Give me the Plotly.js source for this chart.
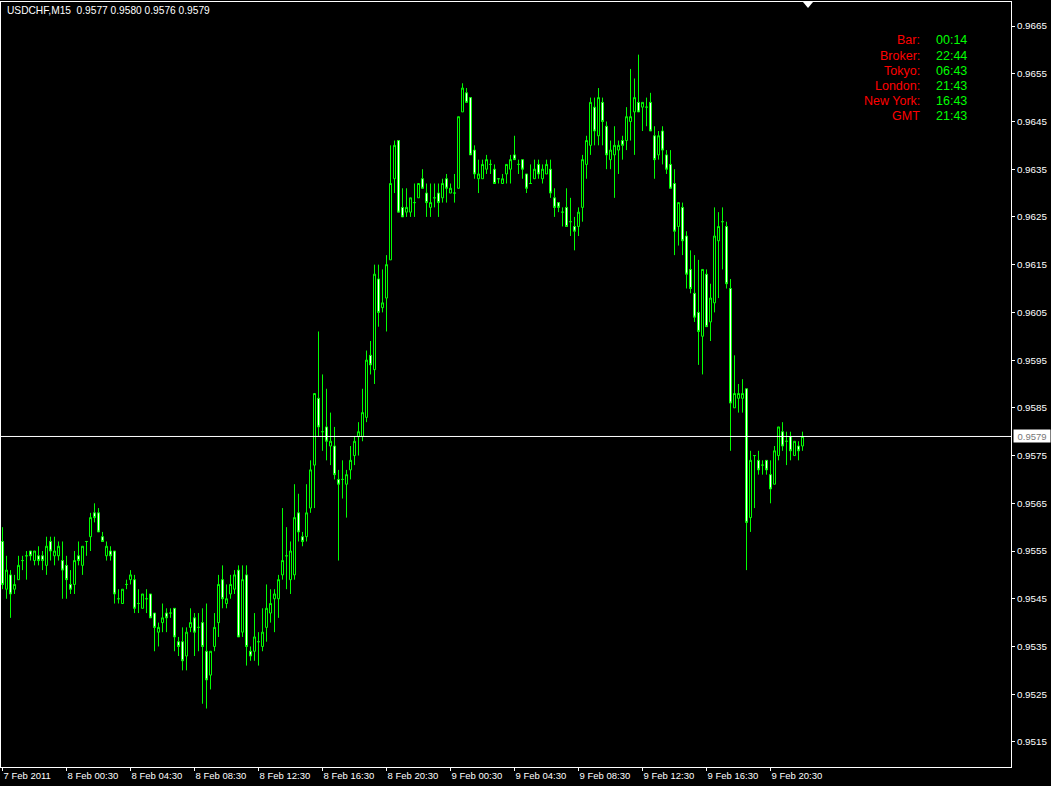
<!DOCTYPE html>
<html>
<head>
<meta charset="utf-8">
<script src="https://cdn.plot.ly/plotly-3.0.1.min.js"></script>
<style>
html,body{margin:0;padding:0;background:#000;}
#chart{width:1051px;height:786px;}
</style>
</head>
<body>
<div id="chart"></div>
<script>
// ---- Data (USDCHF, M15) ----
const symbolTitle = "USDCHF,M15";
const firstBarTime = "2011-02-07 20:30";
const barMinutes = 15;

const open = [
0.9557,0.9547,0.9550,0.9547,0.9549,0.9553,0.9554,0.9555,0.9553,0.9554,
0.9554,0.9552,0.9557,0.9554,0.9554,0.9553,0.9552,0.9548,0.9548,0.9554,
0.9552,0.9557,0.9558,0.9563,0.9563,0.9558,0.9554,0.9555,0.9555,0.9545,
0.9544,0.9548,0.9549,0.9549,0.9544,0.9543,0.9545,0.9546,0.9542,0.9538,
0.9540,0.9542,0.9542,0.9543,0.9536,0.9536,0.9533,0.9539,0.9541,0.9539,
0.9540,0.9534,0.9529,0.9535,0.9540,0.9549,0.9544,0.9546,0.9547,0.9551,
0.9538,0.9550,0.9534,0.9534,0.9536,0.9535,0.9539,0.9542,0.9545,0.9545,
0.9550,0.9554,0.9549,0.9550,0.9563,0.9558,0.9558,0.9564,0.9573,0.9587,
0.9580,0.9581,0.9577,0.9577,0.9570,0.9570,0.9569,0.9572,0.9575,0.9579,
0.9579,0.9583,0.9596,0.9593,0.9612,0.9606,0.9608,0.9616,0.9633,0.9641,
0.9627,0.9626,0.9626,0.9628,0.9629,0.9633,0.9630,0.9627,0.9629,0.9630,
0.9629,0.9633,0.9630,0.9630,0.9631,0.9647,0.9651,0.9650,0.9639,0.9633,
0.9633,0.9635,0.9636,0.9635,0.9633,0.9632,0.9634,0.9635,0.9638,0.9636,
0.9637,0.9634,0.9632,0.9633,0.9636,0.9633,0.9634,0.9635,0.9629,0.9628,
0.9626,0.9627,0.9624,0.9623,0.9623,0.9627,0.9636,0.9640,0.9648,0.9642,
0.9649,0.9644,0.9637,0.9638,0.9639,0.9641,0.9641,0.9645,0.9647,0.9649,
0.9648,0.9648,0.9649,0.9642,0.9638,0.9643,0.9638,0.9636,0.9632,0.9623,
0.9627,0.9621,0.9614,0.9609,0.9605,0.9600,0.9613,0.9603,0.9607,0.9620,
0.9624,0.9623,0.9610,0.9585,0.9587,0.9587,0.9589,0.9562,0.9575,0.9574,
0.9573,0.9574,0.9571,0.9569,0.9575,0.9580,0.9578,0.9579,0.9575,0.9577,
0.9577];

const high = [
0.9560,0.9554,0.9551,0.9550,0.9554,0.9554,0.9555,0.9555,0.9555,0.9556,
0.9555,0.9558,0.9558,0.9558,0.9557,0.9557,0.9554,0.9551,0.9555,0.9557,
0.9556,0.9557,0.9563,0.9565,0.9564,0.9559,0.9557,0.9556,0.9555,0.9547,
0.9547,0.9549,0.9551,0.9550,0.9547,0.9546,0.9547,0.9546,0.9542,0.9540,
0.9544,0.9543,0.9543,0.9543,0.9537,0.9539,0.9539,0.9543,0.9542,0.9542,
0.9543,0.9544,0.9534,0.9542,0.9550,0.9552,0.9548,0.9550,0.9551,0.9552,
0.9552,0.9552,0.9535,0.9542,0.9538,0.9543,0.9548,0.9547,0.9547,0.9550,
0.9564,0.9560,0.9557,0.9569,0.9567,0.9559,0.9569,0.9574,0.9588,0.9601,
0.9592,0.9589,0.9584,0.9581,0.9572,0.9574,0.9572,0.9577,0.9579,0.9582,
0.9589,0.9597,0.9599,0.9615,0.9615,0.9614,0.9617,0.9640,0.9641,0.9641,
0.9631,0.9631,0.9629,0.9632,0.9632,0.9635,0.9632,0.9632,0.9632,0.9632,
0.9633,0.9634,0.9632,0.9634,0.9646,0.9653,0.9652,0.9650,0.9640,0.9637,
0.9637,0.9638,0.9637,0.9636,0.9633,0.9634,0.9636,0.9638,0.9642,0.9637,
0.9637,0.9634,0.9636,0.9637,0.9637,0.9636,0.9637,0.9637,0.9631,0.9628,
0.9627,0.9631,0.9629,0.9625,0.9627,0.9638,0.9642,0.9650,0.9650,0.9652,
0.9650,0.9645,0.9641,0.9644,0.9641,0.9642,0.9648,0.9656,0.9654,0.9659,
0.9649,0.9650,0.9651,0.9644,0.9643,0.9644,0.9639,0.9639,0.9635,0.9628,
0.9628,0.9622,0.9618,0.9617,0.9616,0.9614,0.9614,0.9611,0.9627,0.9626,
0.9627,0.9624,0.9612,0.9596,0.9590,0.9591,0.9589,0.9576,0.9575,0.9576,
0.9574,0.9574,0.9574,0.9577,0.9581,0.9582,0.9580,0.9580,0.9578,0.9578,
0.9580];

const low = [
0.9547,0.9545,0.9541,0.9546,0.9549,0.9551,0.9549,0.9553,0.9552,0.9552,
0.9551,0.9550,0.9553,0.9552,0.9553,0.9545,0.9545,0.9546,0.9546,0.9552,
0.9550,0.9554,0.9555,0.9561,0.9559,0.9557,0.9553,0.9553,0.9544,0.9544,
0.9544,0.9547,0.9548,0.9542,0.9542,0.9543,0.9542,0.9541,0.9534,0.9535,
0.9538,0.9538,0.9541,0.9534,0.9533,0.9530,0.9530,0.9538,0.9533,0.9534,
0.9523,0.9522,0.9526,0.9534,0.9537,0.9543,0.9543,0.9545,0.9546,0.9537,
0.9537,0.9531,0.9532,0.9532,0.9531,0.9534,0.9536,0.9540,0.9538,0.9541,
0.9549,0.9547,0.9546,0.9549,0.9557,0.9556,0.9557,0.9563,0.9564,0.9579,
0.9576,0.9574,0.9573,0.9570,0.9553,0.9566,0.9562,0.9570,0.9573,0.9575,
0.9578,0.9582,0.9592,0.9590,0.9602,0.9605,0.9601,0.9616,0.9630,0.9626,
0.9625,0.9625,0.9625,0.9625,0.9629,0.9631,0.9625,0.9625,0.9627,0.9625,
0.9628,0.9628,0.9630,0.9628,0.9631,0.9647,0.9649,0.9638,0.9633,0.9630,
0.9633,0.9634,0.9634,0.9632,0.9632,0.9632,0.9632,0.9632,0.9637,0.9634,
0.9633,0.9630,0.9632,0.9633,0.9633,0.9632,0.9634,0.9629,0.9625,0.9626,
0.9623,0.9623,0.9621,0.9618,0.9621,0.9624,0.9633,0.9638,0.9640,0.9640,
0.9640,0.9635,0.9635,0.9629,0.9634,0.9637,0.9639,0.9641,0.9638,0.9647,
0.9643,0.9644,0.9643,0.9633,0.9637,0.9636,0.9634,0.9631,0.9617,0.9619,
0.9617,0.9610,0.9609,0.9603,0.9594,0.9592,0.9602,0.9599,0.9605,0.9608,
0.9614,0.9610,0.9576,0.9585,0.9584,0.9584,0.9551,0.9559,0.9564,0.9571,
0.9571,0.9571,0.9565,0.9569,0.9574,0.9576,0.9573,0.9574,0.9575,0.9574,
0.9576];

const close = [
0.9548,0.9551,0.9546,0.9548,0.9552,0.9553,0.9554,0.9554,0.9555,0.9553,
0.9553,0.9556,0.9555,0.9555,0.9556,0.9551,0.9549,0.9547,0.9553,0.9553,
0.9556,0.9557,0.9562,0.9562,0.9559,0.9557,0.9556,0.9554,0.9546,0.9545,
0.9547,0.9548,0.9550,0.9543,0.9544,0.9546,0.9545,0.9541,0.9539,0.9539,
0.9541,0.9541,0.9542,0.9537,0.9535,0.9532,0.9538,0.9540,0.9538,0.9539,
0.9535,0.9528,0.9534,0.9539,0.9548,0.9545,0.9545,0.9548,0.9550,0.9537,
0.9549,0.9535,0.9533,0.9537,0.9536,0.9538,0.9543,0.9544,0.9546,0.9549,
0.9553,0.9554,0.9555,0.9562,0.9559,0.9557,0.9563,0.9572,0.9588,0.9581,
0.9580,0.9578,0.9578,0.9571,0.9569,0.9570,0.9571,0.9574,0.9578,0.9580,
0.9584,0.9595,0.9594,0.9613,0.9605,0.9607,0.9615,0.9632,0.9640,0.9626,
0.9625,0.9627,0.9629,0.9628,0.9632,0.9631,0.9628,0.9628,0.9629,0.9628,
0.9632,0.9631,0.9631,0.9630,0.9646,0.9652,0.9649,0.9638,0.9634,0.9634,
0.9636,0.9637,0.9636,0.9632,0.9633,0.9633,0.9636,0.9637,0.9637,0.9636,
0.9635,0.9631,0.9632,0.9635,0.9634,0.9635,0.9636,0.9630,0.9627,0.9627,
0.9626,0.9623,0.9624,0.9622,0.9626,0.9637,0.9641,0.9649,0.9643,0.9650,
0.9645,0.9638,0.9639,0.9640,0.9640,0.9640,0.9646,0.9646,0.9650,0.9647,
0.9649,0.9648,0.9643,0.9637,0.9642,0.9639,0.9635,0.9631,0.9622,0.9628,
0.9620,0.9613,0.9610,0.9604,0.9601,0.9614,0.9602,0.9608,0.9621,0.9623,
0.9624,0.9611,0.9586,0.9588,0.9588,0.9588,0.9561,0.9574,0.9575,0.9572,
0.9573,0.9572,0.9568,0.9576,0.9581,0.9577,0.9578,0.9576,0.9578,0.9576,
0.9579];

const xTickVals = ["2011-02-07 20:30","2011-02-08 00:30","2011-02-08 04:30","2011-02-08 08:30",
  "2011-02-08 12:30","2011-02-08 16:30","2011-02-08 20:30","2011-02-09 00:30","2011-02-09 04:30",
  "2011-02-09 08:30","2011-02-09 12:30","2011-02-09 16:30","2011-02-09 20:30"];
const xTickText = ["7 Feb 2011","8 Feb 00:30","8 Feb 04:30","8 Feb 08:30","8 Feb 12:30","8 Feb 16:30",
  "8 Feb 20:30","9 Feb 00:30","9 Feb 04:30","9 Feb 08:30","9 Feb 12:30","9 Feb 16:30","9 Feb 20:30"];

const clockLabels = ["Bar:","Broker:","Tokyo:","London:","New York:","GMT"];
const clockValues = ["00:14","22:44","06:43","21:43","16:43","21:43"];

// ---- bar times (15-minute steps) ----
function pad(n){return (n<10?"0":"")+n;}
function fmt(d){return d.getUTCFullYear()+"-"+pad(d.getUTCMonth()+1)+"-"+pad(d.getUTCDate())+" "+pad(d.getUTCHours())+":"+pad(d.getUTCMinutes())+":"+pad(d.getUTCSeconds())+"."+String(d.getUTCMilliseconds()).padStart(3,"0");}
const t0 = Date.UTC(2011,1,7,20,30);
const barMs = barMinutes*60000;
const times = close.map((_,i)=>fmt(new Date(t0 + i*barMs)));

const W=1051, H=786, ML=1, MR=40, MT=2, MB=19;
const PW = W-ML-MR, PH = H-MT-MB;
const pxPerBar = 4;
// first bar centred on pixel column 2 (centre at 2.5 px)
const leftBars = (2.5-ML)/pxPerBar;
const xStart = fmt(new Date(t0 - leftBars*barMs));
const xEnd = fmt(new Date(t0 + (PW/pxPerBar - leftBars)*barMs));
function px(x){return (x-ML)/PW;}
function py(y){return 1-(y-MT)/PH;}

const last = close.length-1;
const fontFam = "Liberation Sans, Arial, sans-serif";

const trace = {
  type:"candlestick",
  x: times, open: open, high: high, low: low, close: close,
  increasing:{line:{color:"#00ff00",width:1},fillcolor:"#000000"},
  decreasing:{line:{color:"#00ff00",width:1},fillcolor:"#ffffff"},
  whiskerwidth:0,
  hoverinfo:"skip",
  showlegend:false
};

const annotations = [];
annotations.push({
  xref:"paper", yref:"paper", x:px(5), y:py(11), xanchor:"left", yanchor:"middle",
  text: symbolTitle+"  "+open[last].toFixed(4)+" "+high[last].toFixed(4)+" "+low[last].toFixed(4)+" "+close[last].toFixed(4),
  showarrow:false, font:{family:fontFam,size:10.2,color:"#ffffff"}
});
const rowY=[40,56,71,86,101,116];
clockLabels.forEach((l,i)=>{
  annotations.push({xref:"paper",yref:"paper",x:px(922),y:py(rowY[i]),xanchor:"right",yanchor:"middle",
    text:l,showarrow:false,font:{family:fontFam,size:12.5,color:"#ff0000"}});
  annotations.push({xref:"paper",yref:"paper",x:px(934),y:py(rowY[i]),xanchor:"left",yanchor:"middle",
    text:clockValues[i],showarrow:false,font:{family:fontFam,size:12.5,color:"#00ff00"}});
});
annotations.push({
  xref:"paper", yref:"y", x:1, y:close[last], xanchor:"left", yanchor:"middle", xshift:2,
  text: close[last].toFixed(4), showarrow:false, bgcolor:"#ffffff", borderpad:1, width:34, height:10,
  font:{family:fontFam,size:9.5,color:"#777777"}
});

const layout = {
  width:W, height:H,
  margin:{l:ML,r:MR,t:MT,b:MB,pad:0},
  paper_bgcolor:"#000000", plot_bgcolor:"#000000",
  showlegend:false,
  boxmode:"overlay", boxgap:0.5, boxgroupgap:0,
  xaxis:{
    type:"date", range:[xStart,xEnd], rangeslider:{visible:false},
    tickvals:xTickVals, ticktext:xTickText, ticklabelposition:"outside right",
    ticks:"outside", ticklen:3, tickcolor:"#ffffff", tickwidth:1,
    showgrid:false, zeroline:false, showline:true, linecolor:"#ffffff", linewidth:1, mirror:true,
    tickfont:{family:fontFam,size:9.5,color:"#ffffff"}, fixedrange:true
  },
  yaxis:{
    side:"right", range:[0.950975,0.967003], tick0:0.9515, dtick:0.001, tickformat:".4f",
    ticks:"outside", ticklen:3, tickcolor:"#ffffff", tickwidth:1,
    showgrid:false, zeroline:false, showline:true, linecolor:"#ffffff", linewidth:1, mirror:true,
    tickfont:{family:fontFam,size:9.8,color:"#ffffff"}, fixedrange:true
  },
  shapes:[
    {type:"line", xref:"paper", yref:"y", x0:0, x1:1, y0:close[last], y1:close[last],
     line:{color:"#ffffff",width:1}},
    {type:"path", xref:"paper", yref:"paper",
     path:"M "+px(803)+" "+py(2)+" L "+px(813)+" "+py(2)+" L "+px(808)+" "+py(8)+" Z",
     fillcolor:"#ffffff", line:{color:"#ffffff",width:0}}
  ],
  annotations:annotations
};

Plotly.newPlot("chart",[trace],layout,{displayModeBar:false,staticPlot:true});
</script>
</body>
</html>
